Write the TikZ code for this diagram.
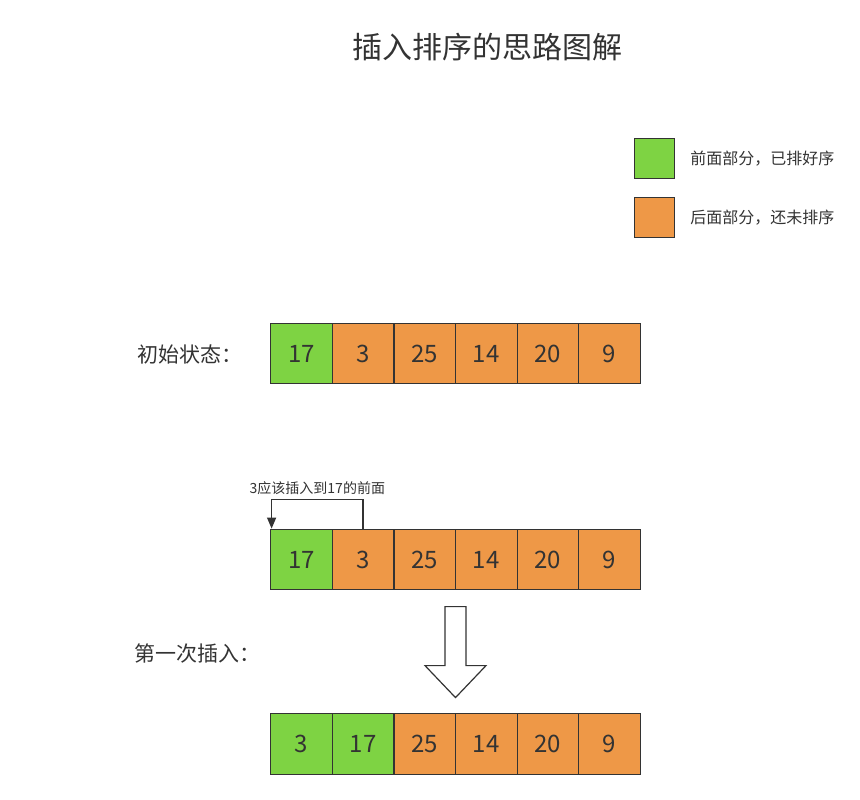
\documentclass[tikz,border=0pt]{standalone}
\usepackage{fontspec}
\setmainfont{Noto Sans CJK SC}
\usetikzlibrary{matrix, arrows.meta, positioning}
\definecolor{ink}{HTML}{333333}
\definecolor{donegreen}{HTML}{7ED343}
\definecolor{todoorange}{HTML}{EE9847}
\newcommand\fs[1]{\fontsize{#1}{#1}\selectfont}

\begin{document}
\begin{tikzpicture}[x=1pt, y=1pt, text=ink,
  cell/.style = {draw=ink, line width=1.2pt, minimum width=61.6pt, minimum height=60.6pt, inner sep=0pt, font=\fs{24}},
  done/.style = {fill=donegreen},
  todo/.style = {fill=todoorange},
  row/.style = {matrix of nodes, nodes={cell, todo}, column sep=-1.2pt, inner sep=0pt},
  key/.style = {draw=ink, line width=1.2pt, minimum size=40pt, inner sep=0pt},
  caption/.style = {anchor=west, inner sep=0pt, font=\fs{21}}]
\useasboundingbox (0,0) rectangle (860,-800);

\node[font=\fs{30}] (title) at (487,-47) {插入排序的思路图解};

% legend
\node[key, done] (key1) at (654.5,-158.5) {};
\node[key, todo] (key2) at (654.5,-217.5) {};
\node[anchor=west, inner sep=0pt, font=\fs{16}, right=15pt of key1] (keytext1) {前面部分，已排好序};
\node[anchor=west, inner sep=0pt, font=\fs{16}, right=15pt of key2] (keytext2) {后面部分，还未排序};

% initial state
\node[caption] (start) at (137,-354) {初始状态：};
\matrix (r1) [row, at={(455.5,-353.5)}] {
|[done]| 17 & 3 & 25 & 14 & 20 & 9 \\
};

% before first insertion
\matrix (r2) [row, at={(455.5,-559.5)}] {
|[done]| 17 & 3 & 25 & 14 & 20 & 9 \\
};
\draw[ink, line width=1.3pt, -{Triangle[length=11pt, width=9pt]}]
  (r2-1-2.north) -- ++(0,29) coordinate (turn)
  -| ([xshift=1.5pt]r2-1-1.north west)
  node[pos=0.25, above=4pt, inner sep=0pt, font=\fs{14}] (hint) {3应该插入到17的前面};

% big arrow
\draw[ink, line width=1.2pt, fill=white]
  ([xshift=-10.5pt, yshift=-16pt]r2.south) -- ([xshift=10.5pt, yshift=-16pt]r2.south)
  -- ([xshift=10.5pt, yshift=-75pt]r2.south) -- ([xshift=30.5pt, yshift=-75pt]r2.south)
  -- ([yshift=-107pt]r2.south) -- ([xshift=-30.5pt, yshift=-75pt]r2.south)
  -- ([xshift=-10.5pt, yshift=-75pt]r2.south) -- cycle;

% after first insertion
\node[caption] (first) at (134,-654) {第一次插入：};
\matrix (r3) [row, at={(455.5,-744)}] {
|[done]| 3 & |[done]| 17 & 25 & 14 & 20 & 9 \\
};
\end{tikzpicture}
\end{document}
